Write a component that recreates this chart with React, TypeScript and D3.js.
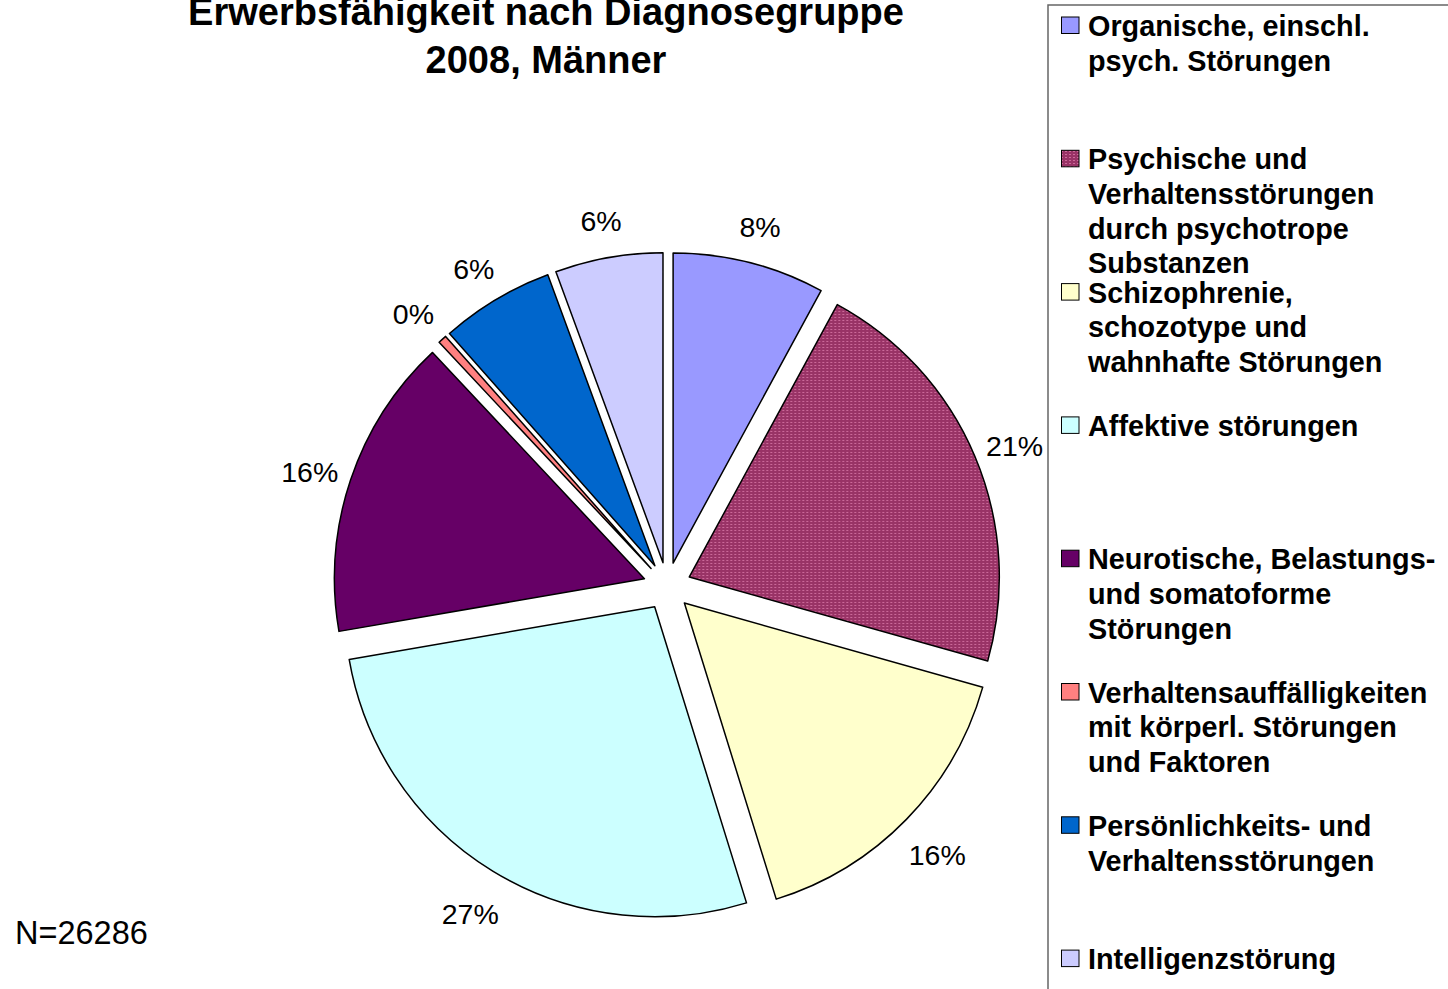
import React from "react";
import * as d3 from "d3";

const categories: string[][] = [
  ["Organische, einschl.", "psych. Störungen"],
  ["Psychische und", "Verhaltensstörungen", "durch psychotrope", "Substanzen"],
  ["Schizophrenie,", "schozotype und", "wahnhafte Störungen"],
  ["Affektive störungen"],
  ["Neurotische, Belastungs-", "und somatoforme", "Störungen"],
  ["Verhaltensauffälligkeiten", "mit körperl. Störungen", "und Faktoren"],
  ["Persönlichkeits- und", "Verhaltensstörungen"],
  ["Intelligenzstörung"],
];
const values: number[] = [7.9, 21.4, 15.8, 27.0, 15.7, 0.45, 5.9, 5.6];
const colors: string[] = [
  "#9999FF",
  "url(#dots)",
  "#FFFFCC",
  "#CCFFFF",
  "#660066",
  "#FF8080",
  "#0066CC",
  "#CCCCFF",
];
const titleLines: string[] = ["Erwerbsfähigkeit nach Diagnosegruppe", "2008, Männer"];
const nLabel = "N=26286";

const FONT = "Arial, 'Liberation Sans', Helvetica, sans-serif";

export default function App() {
  const W = 1448;
  const H = 989;
  const cx = 667.2;
  const cy = 586.3;
  const r = 310;
  const explode = 24;
  const labelDist = 353;

  const total = d3.sum(values);
  const pie = d3.pie<number>().sort(null).value((d) => d).startAngle(0).endAngle(2 * Math.PI);
  const arcs = pie(values);
  const arc = d3.arc<d3.PieArcDatum<number>>().innerRadius(0).outerRadius(r);
  const fmt = (v: number) => `${Math.round((v / total) * 100)}%`;

  const legendX = 1048;
  const legendTop = 5;
  const itemStep = 133.3;
  const lineStep = 34.7;
  const firstBaseline = 36;

  return (
    <svg
      width={W}
      height={H}
      style={{ position: "absolute", left: 0, top: 0, display: "block", background: "#fff" }}
      fontFamily={FONT}
    >
      <defs>
        <pattern id="dots" width={4} height={3} patternUnits="userSpaceOnUse">
          <rect width={4} height={3} fill="#993366" />
          <rect x={1} y={1} width={2} height={1} fill="#CC6A9A" />
        </pattern>
      </defs>
      <rect width={W} height={H} fill="#fff" />

      {/* Title */}
      {titleLines.map((t, i) => (
        <text
          key={i}
          x={546}
          y={25 + i * 48}
          textAnchor="middle"
          fontWeight="bold"
          fontSize={38}
          fill="#000"
        >
          {t}
        </text>
      ))}

      {/* Pie */}
      {arcs.map((a, i) => {
        const mid = (a.startAngle + a.endAngle) / 2;
        const ox = cx + Math.sin(mid) * explode;
        const oy = cy - Math.cos(mid) * explode;
        return (
          <g key={i} transform={`translate(${ox},${oy})`}>
            <path d={arc(a) || ""} fill={colors[i]} stroke="#000" strokeWidth={1.5} strokeLinejoin="round" />
          </g>
        );
      })}

      {/* Data labels */}
      {arcs.map((a, i) => {
        const mid = (a.startAngle + a.endAngle) / 2;
        const ox = cx + Math.sin(mid) * explode;
        const oy = cy - Math.cos(mid) * explode;
        const lx = ox + Math.sin(mid) * labelDist;
        const ly = oy - Math.cos(mid) * labelDist;
        return (
          <text key={i} x={lx} y={ly + 16} textAnchor="middle" fontSize={28.5} fill="#000">
            {fmt(values[i])}
          </text>
        );
      })}

      <text x={15} y={944} fontSize={32.5} fill="#000">
        {nLabel}
      </text>

      {/* Legend */}
      <rect x={legendX} y={legendTop} width={600} height={1200} fill="none" stroke="#666" strokeWidth={1.5} />
      {categories.map((lines, i) => {
        const base = firstBaseline + i * itemStep;
        return (
          <g key={i}>
            <rect
              x={1061.5}
              y={base - 19}
              width={17.5}
              height={16.5}
              fill={colors[i]}
              stroke="#000"
              strokeWidth={1}
            />
            {lines.map((ln, j) => (
              <text key={j} x={1088} y={base + j * lineStep} fontSize={28.8} fontWeight="bold" fill="#000">
                {ln}
              </text>
            ))}
          </g>
        );
      })}
    </svg>
  );
}
